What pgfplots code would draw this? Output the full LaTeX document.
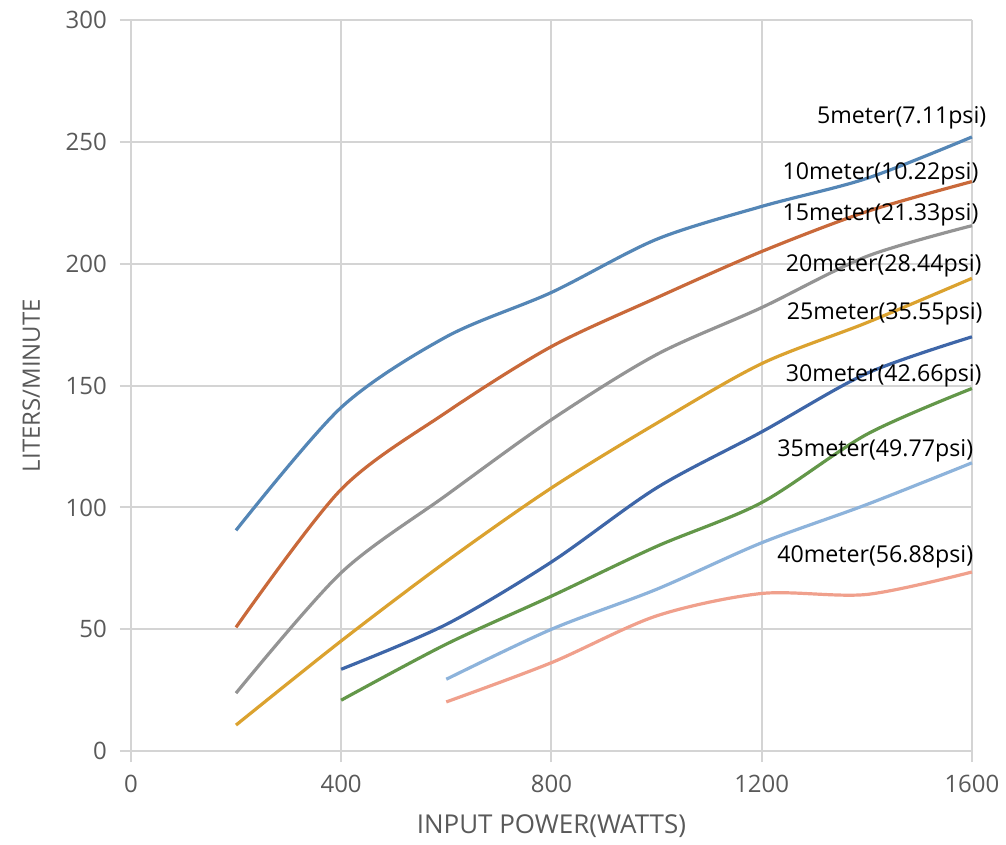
\documentclass[border=0pt]{standalone}
\usepackage{pgfplots}
\pgfplotsset{compat=1.18}
\usepackage{fontspec}
\setmainfont{Open Sans}
\definecolor{cA}{HTML}{5486B6}
\definecolor{cB}{HTML}{C9693A}
\definecolor{cC}{HTML}{949494}
\definecolor{cD}{HTML}{DBA22F}
\definecolor{cE}{HTML}{3E66A8}
\definecolor{cF}{HTML}{639749}
\definecolor{cG}{HTML}{8DB3DB}
\definecolor{cH}{HTML}{F0A08C}
\definecolor{gridc}{HTML}{D4D4D4}
\definecolor{txt}{HTML}{595959}
\begin{document}
\begin{tikzpicture}
\begin{axis}[
  scale only axis,
  width=421pt, height=366pt,
  xmin=0, xmax=1600, ymin=0, ymax=300,
  xtick={0,400,800,1200,1600},
  ytick={0,50,100,150,200,250,300},
  grid=major,
  grid style={gridc, line width=1pt},
  axis line style={gridc, line width=1pt},
  axis lines*=left,
  tick style={gridc, line width=1pt},
  tick align=outside,
  major tick length=5.5pt,
  tick label style={font=\fontsize{12}{14}\selectfont, text=txt},
  /pgf/number format/assume math mode=true,
  /pgf/number format/1000 sep={},
  xticklabel style={yshift=-3pt},
  yticklabel style={xshift=-3pt},
  xlabel={INPUT POWER(WATTS)},
  ylabel={LITERS/MINUTE},
  label style={text=txt},
  xlabel style={font=\fontsize{13}{15}\selectfont, yshift=-4pt},
  ylabel style={font=\fontsize{12}{14}\selectfont, yshift=6pt},
  every axis plot/.append style={line width=1.6pt, smooth, no marks},
  clip=false,
]
\addplot[cA] coordinates {(200,90.6) (400,141) (600,170) (800,188.2) (1000,210) (1200,223.5) (1400,235) (1600,252)};
\addplot[cB] coordinates {(200,50.8) (400,107.4) (600,139) (800,166) (1000,186) (1200,205) (1400,221.4) (1600,233.7)};
\addplot[cC] coordinates {(200,23.8) (400,73.2) (600,105) (800,136) (1000,162.7) (1200,182) (1400,203) (1600,215.6)};
\addplot[cD] coordinates {(200,10.7) (400,45.2) (600,77.8) (800,108) (1000,134.5) (1200,159) (1400,175.8) (1600,194)};
\addplot[cE] coordinates {(400,33.6) (600,52) (800,77.6) (1000,108) (1200,131) (1400,155) (1600,170)};
\addplot[cF] coordinates {(400,20.9) (600,43.9) (800,63.6) (1000,84) (1200,102) (1400,130) (1600,148.8)};
\addplot[cG] coordinates {(600,29.5) (800,50) (1000,66.4) (1200,85.5) (1400,101.2) (1600,118.3)};
\addplot[cH] coordinates {(600,20.2) (800,36.3) (1000,55.5) (1200,64.7) (1400,64.3) (1600,73.5)};
\begin{scope}[every node/.style={anchor=east, font=\fontsize{11.6}{13}\selectfont, inner sep=0pt}]
\node at (axis cs:1628,259.8) {5meter(7.11psi)};
\node at (axis cs:1613,236.9) {10meter(10.22psi)};
\node at (axis cs:1613,220.1) {15meter(21.33psi)};
\node at (axis cs:1619,199.2) {20meter(28.44psi)};
\node at (axis cs:1621,179.5) {25meter(35.55psi)};
\node at (axis cs:1619,154.1) {30meter(42.66psi)};
\node at (axis cs:1603,123.4) {35meter(49.77psi)};
\node at (axis cs:1603,79.9) {40meter(56.88psi)};
\end{scope}
\end{axis}
\path[use as bounding box] (-65.5pt,-45pt) rectangle (437.5pt,376pt);
\end{tikzpicture}
\end{document}
